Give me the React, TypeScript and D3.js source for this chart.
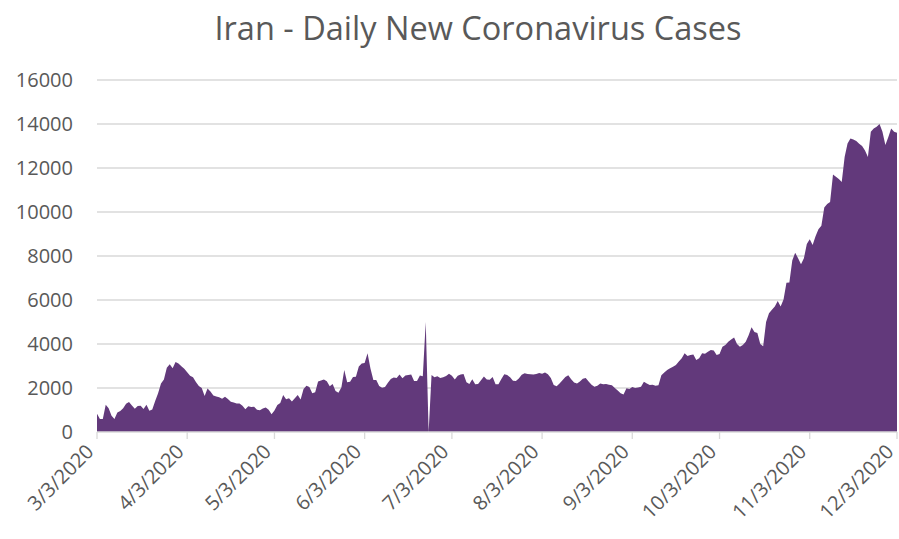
import React from 'react';
import * as d3 from 'd3';

const title = 'Iran - Daily New Coronavirus Cases';
const firstDay = '3/3/2020';

// daily new cases, one value per day
const march = [835, 586, 591, 1234, 1076, 743, 595, 881, 958, 1075, 1289, 1365, 1209, 1053, 1178, 1192, 1046, 1237, 966, 1028, 1411, 1762, 2206, 2389, 2926, 3076, 2901, 3186, 3110];
const april = [2987, 2875, 2715, 2560, 2483, 2274, 2089, 1997, 1634, 1972, 1837, 1657, 1617, 1574, 1512, 1606, 1499, 1374, 1343, 1294, 1297, 1194, 1030, 1168, 1134, 1153, 1006, 991, 1073, 1112];
const may = [1006, 802, 976, 1223, 1323, 1680, 1485, 1529, 1383, 1529, 1683, 1481, 1958, 2102, 2046, 1757, 1806, 2294, 2346, 2392, 2311, 2080, 2180, 1869, 1787, 2023, 2819, 2265, 2282, 2500, 2516];
const june = [2979, 3117, 3134, 3574, 2886, 2364, 2369, 2095, 2011, 2043, 2238, 2410, 2472, 2449, 2612, 2445, 2563, 2596, 2615, 2322, 2322, 2573, 2531, 5000, 0, 2595, 2489, 2536, 2457, 2489];
const july = [2549, 2652, 2560, 2388, 2560, 2613, 2637, 2262, 2187, 2397, 2166, 2186, 2349, 2521, 2388, 2379, 2500, 2166, 2166, 2414, 2625, 2586, 2489, 2333, 2316, 2434, 2598, 2667, 2636, 2621, 2610];
const august = [2640, 2680, 2650, 2700, 2620, 2450, 2140, 2080, 2200, 2350, 2500, 2580, 2400, 2250, 2210, 2300, 2420, 2450, 2300, 2150, 2060, 2100, 2200, 2170, 2180, 2150, 2120, 2000, 1890, 1760, 1710];
const september = [1990, 1950, 2050, 2000, 2020, 2060, 2280, 2200, 2140, 2150, 2100, 2130, 2580, 2710, 2820, 2900, 2970, 3050, 3200, 3350, 3580, 3450, 3500, 3520, 3270, 3350, 3580, 3560, 3650, 3730];
const october = [3700, 3500, 3550, 3880, 3950, 4100, 4200, 4300, 4000, 3880, 3950, 4100, 4400, 4760, 4550, 4500, 4000, 3900, 5000, 5400, 5560, 5700, 5950, 5700, 6020, 6780, 6800, 7800, 8150, 7900, 7620];
const november = [7900, 8540, 8760, 8500, 8900, 9220, 9370, 10210, 10360, 10460, 11700, 11600, 11500, 11360, 12500, 13110, 13340, 13300, 13230, 13100, 13000, 12800, 12500, 13650, 13800, 13870, 14000, 13650, 13040, 13400];
const december = [13800, 13650, 13600];

const yTicks = [0, 2000, 4000, 6000, 8000, 10000, 12000, 14000, 16000];
const xTickLabels = ['3/3/2020', '4/3/2020', '5/3/2020', '6/3/2020', '7/3/2020', '8/3/2020', '9/3/2020', '10/3/2020', '11/3/2020', '12/3/2020'];

const W = 899;
const H = 539;
const font = '"Open Sans", "Noto Sans", sans-serif';
const textColor = '#595959';
const gridColor = '#d9d9d9';
const fillColor = '#62397b';

export default function App() {
  const parse = d3.timeParse('%m/%d/%Y');
  const start = parse(firstDay)!;
  const values = [march, april, may, june, july, august, september, october, november, december].flat();
  const data = values.map((v, i) => ({ date: d3.timeDay.offset(start, i), value: v }));
  const tickDates = xTickLabels.map((s) => parse(s)!);

  const x = d3.scaleTime()
    .domain([start, tickDates[tickDates.length - 1]])
    .range([97, 897]);
  const y = d3.scaleLinear().domain([0, 16000]).range([432, 80]);

  const area = d3.area<{ date: Date; value: number }>()
    .x((d) => x(d.date))
    .y0(y(0))
    .y1((d) => y(d.value));

  return (
    <svg width={W} height={H} style={{ position: 'absolute', left: 0, top: 0, fontFamily: font }}>
      <rect width={W} height={H} fill="#fff" />
      <text x={478} y={40} textAnchor="middle" fontSize={32.5} fill={textColor}>{title}</text>

      {yTicks.filter((t) => t > 0).map((t) => (
        <line key={t} x1={97} x2={897} y1={y(t)} y2={y(t)} stroke={gridColor} strokeWidth={1.3} />
      ))}

      <path d={area(data) ?? ''} fill={fillColor} />

      <line x1={97} x2={897} y1={y(0)} y2={y(0)} stroke={gridColor} strokeWidth={1.3} />
      {tickDates.map((d, i) => (
        <line key={i} x1={x(d)} x2={x(d)} y1={y(0)} y2={y(0) + 7} stroke={gridColor} strokeWidth={1.3} />
      ))}

      {yTicks.map((t) => (
        <text key={t} x={73} y={y(t)} dy="0.35em" textAnchor="end" fontSize={20} fill={textColor}>{t}</text>
      ))}

      {tickDates.map((d, i) => (
        <text key={i} transform={`translate(${x(d) - 7},${y(0) + 16}) rotate(-45)`} textAnchor="end" dy="0.35em"
          fontSize={20} fill={textColor}>{xTickLabels[i]}</text>
      ))}
    </svg>
  );
}
